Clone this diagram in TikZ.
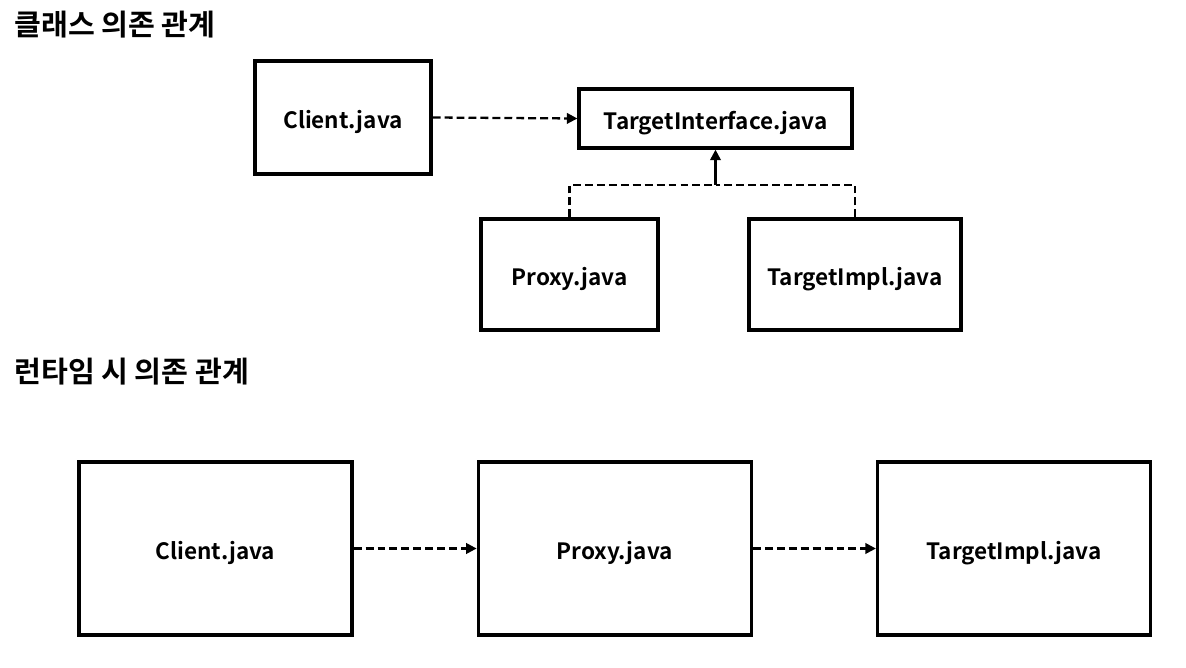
\documentclass[tikz,border=0pt]{standalone}
\usepackage{fontspec}
\setmainfont{Noto Sans CJK KR}[BoldFont={* Bold}]
\usetikzlibrary{positioning, arrows.meta}

\begin{document}
\begin{tikzpicture}[
        x=0.02cm, y=-0.02cm,
        node distance=2.46cm,
        javabox/.style={rectangle, draw=black, line width=1.9pt, inner sep=0pt, align=center, text height=1.45em, text depth=0.2em, font=\bfseries\fontsize{12.8}{15}\selectfont},
        heading/.style={anchor=west, inner sep=0pt, font=\bfseries\fontsize{16.6}{19}\selectfont},
        dep/.style={-{Triangle[length=6pt, width=6pt]}, line width=1.3pt, dashed, dash pattern=on 4.5pt off 2.3pt},
        link/.style={line width=1.3pt, dashed, dash pattern=on 4.5pt off 2.3pt}
    ]
        \useasboundingbox (0,0) rectangle (1186,668);

        % Class dependencies
        \node[heading] (titleclass) at (14,25) {클래스 의존 관계};
        \node[javabox, minimum width=3.52cm, minimum height=2.26cm] (client) at (343,117.5) {Client.java};
        \node[javabox, minimum width=5.46cm, minimum height=1.18cm] (iface) at (715.5,118.5) {TargetInterface.java};
        \node[javabox, minimum width=3.54cm, minimum height=2.22cm] (proxy) at (569.5,274.5) {Proxy.java};
        \node[javabox, minimum width=4.24cm, minimum height=2.22cm] (impl) at (855,274.5) {TargetImpl.java};
        \coordinate (join) at (715.5,185);

        \draw[dep] (client.east) -- (iface.west);
        \draw[link] (proxy.north) |- (join);
        \draw[link] (impl.north) |- (join);
        \draw[-{Triangle[length=6pt, width=6pt]}, line width=1.3pt] (join) -- (iface.south);

        % Runtime dependencies
        \node[heading] (titleruntime) at (14,372) {런타임 시 의존 관계};
        \node[javabox, minimum width=5.46cm, minimum height=3.46cm] (rclient) at (215.5,548.5) {Client.java};
        \node[javabox, minimum width=5.46cm, minimum height=3.46cm, right=of rclient] (rproxy) {Proxy.java};
        \node[javabox, minimum width=5.46cm, minimum height=3.46cm, right=of rproxy] (rimpl) {TargetImpl.java};

        \draw[dep] (rclient.east) -- (rproxy.west);
        \draw[dep] (rproxy.east) -- (rimpl.west);
    \end{tikzpicture}
\end{document}
